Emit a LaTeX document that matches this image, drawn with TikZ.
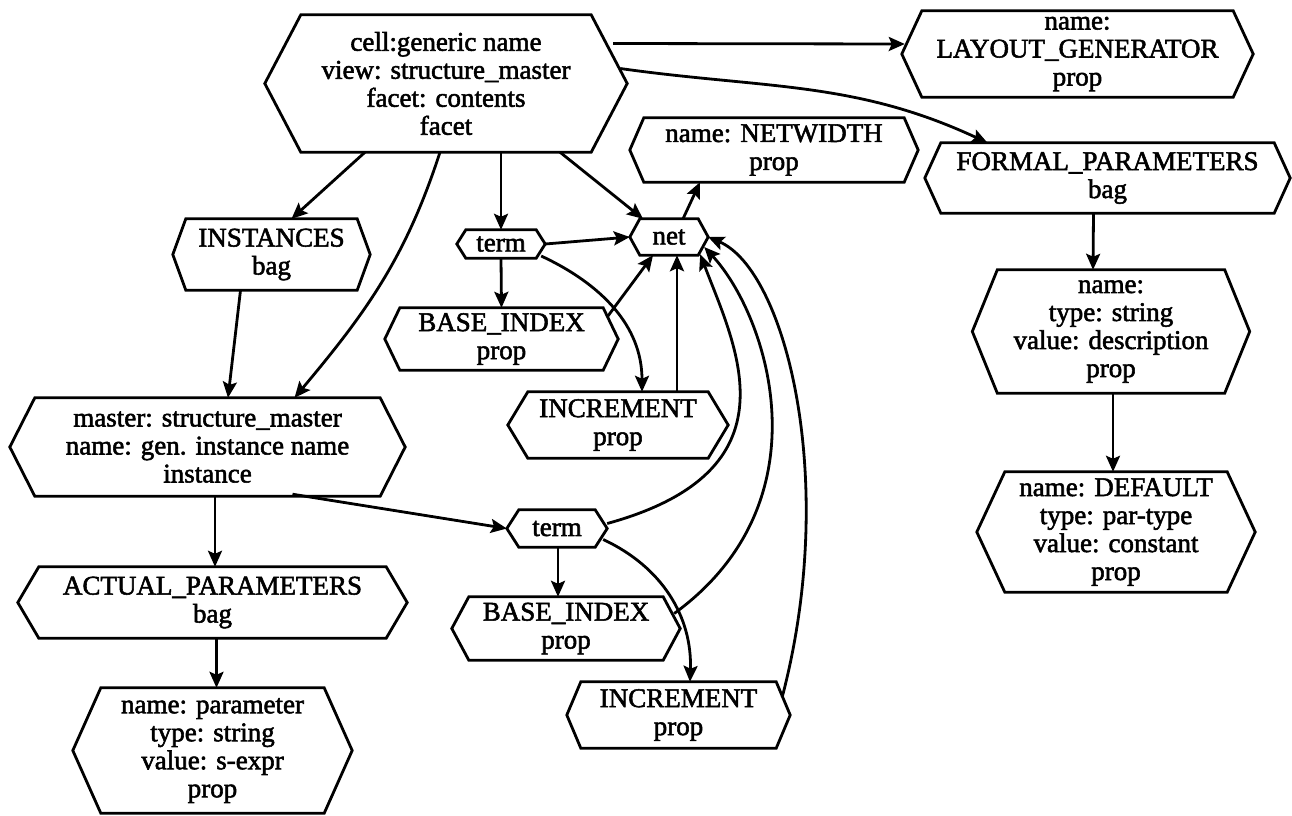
\documentclass[tikz,border=0pt]{standalone}
\usepackage{fontspec}
\setmainfont{Liberation Serif}[UprightFeatures={FakeBold=2}]
\usetikzlibrary{arrows.meta,calc}
\tikzset{
  hexbox/.style={rectangle, inner sep=0pt, align=center, font=\fontsize{27}{28}\selectfont},
  hexline/.style={line width=2.8pt, line join=miter},
  arr/.style={line width=2.8pt, -{Stealth[length=16pt,width=14pt,inset=3pt]}},
}
\newcommand{\hexnode}[6]{%
  \node[hexbox, minimum width=#3pt, minimum height=#4pt] (#1) at (#2) {#6};
  \draw[hexline] (#1.west) -- ([xshift=#5pt]#1.north west) -- ([xshift=-#5pt]#1.north east) -- (#1.east) -- ([xshift=-#5pt]#1.south east) -- ([xshift=#5pt]#1.south west) -- cycle;}
\begin{document}
\begin{tikzpicture}[x=1pt,y=-1pt]
\useasboundingbox (0,0) rectangle (1292,815);
\hexnode{facet}{446,83.5}{362}{137}{36}{cell:generic name\\view: structure\_master\\facet: contents\\facet}
\hexnode{layout}{1077.5,54}{351}{86}{20}{name:\\LAYOUT\_GENERATOR\\prop}
\hexnode{formal}{1107.5,178}{365}{70}{16}{FORMAL\_PARAMETERS\\bag}
\hexnode{netwidth}{774,150}{288}{64}{14}{name: NETWIDTH\\prop}
\hexnode{net}{669,237}{78}{36}{10}{net}
\hexnode{termA}{501,244}{88}{28}{9}{term}
\hexnode{baseA}{501.5,339}{233}{62}{15}{BASE\_INDEX\\prop}
\hexnode{incrA}{618,425}{220}{66}{20}{INCREMENT\\prop}
\hexnode{inst}{271.5,254.5}{197}{71}{13}{INSTANCES\\bag}
\hexnode{master}{207.5,447}{395}{98}{25}{master: structure\_master\\name: gen. instance name\\instance}
\hexnode{actual}{212.5,602.5}{389}{71}{21}{ACTUAL\_PARAMETERS\\bag}
\hexnode{param}{212.5,750.5}{279}{125}{28}{name: parameter\\type: string\\value: s-expr\\prop}
\hexnode{termB}{557,528.5}{100}{37}{12}{term}
\hexnode{baseB}{566,628.5}{228}{63}{17}{BASE\_INDEX\\prop}
\hexnode{incrB}{678.5,715}{223}{66}{14}{INCREMENT\\prop}
\hexnode{descr}{1111,331.5}{277}{123}{25}{name:\\type: string\\value: description\\prop}
\hexnode{default}{1116,532}{278}{120}{28}{name: DEFAULT\\type: par-type\\value: constant\\prop}

\draw[arr] ($(facet.east)+(-14,-40)$) -- ($(layout.west)+(3,-10)$);
\draw[arr] ($(facet.east)+(-7,-15)$) to[out=-8, in=155] ($(formal.north)+(-120,0)$);
\draw[arr] ($(facet.south)+(-81,0)$) -- ($(inst.north)+(20,0)$);
\draw[arr] ($(facet.south)+(-6,0)$) to[out=-108, in=50] ($(master.north)+(87,0)$);
\draw[arr] ($(facet.south)+(55,0)$) -- (termA.north);
\draw[arr] ($(facet.south)+(114,0)$) -- ($(net.north)+(-26,0)$);
\draw[arr] (termA.east) -- (net.west);
\draw[arr] (termA.south) -- (baseA.north);
\draw[arr] ($(termA.east)+(-4,12)$) to[out=-25, in=90] ($(incrA.north)+(24,0)$);
\draw[arr] ($(baseA.east)+(-11,-22)$) -- ($(net.south)+(-16,0)$);
\draw[arr] ($(incrA.north)+(59,0)$) -- ($(net.south)+(8,0)$);
\draw[arr] ($(net.north)+(14,0)$) -- ($(netwidth.south)+(-74,0)$);
\draw[arr] ($(inst.south)+(-31,0)$) -- ($(master.north)+(20.5,0)$);
\draw[arr] ($(master.south)+(7.5,0)$) -- ($(actual.north)+(2.5,0)$);
\draw[arr] ($(actual.south)+(4,0)$) -- ($(param.north)+(4,0)$);
\draw[arr] ($(master.south)+(85,-2)$) -- (termB.west);
\draw[arr] ($(termB.south)+(1,0)$) -- ($(baseB.north)+(-8,0)$);
\draw[arr] ($(termB.east)+(-4,11)$) to[out=-25, in=88] ($(incrB.north)+(11.5,0)$);
\draw[arr] ($(termB.east)+(0,-5)$) .. controls +(193,-53) and +(35,92) .. ($(net.south east)+(-8,-1)$);
\draw[arr] ($(baseB.east)+(-6,-15)$) .. controls +(155,-113) and +(63,68) .. ($(net.east)+(-4,10)$);
\draw[arr] ($(incrB.east)+(-8,-18)$) .. controls +(57,-217) and +(77,33) .. (net.east);
\draw[arr] ($(formal.south)+(-14,0)$) -- ($(descr.north)+(-18,0)$);
\draw[arr] ($(descr.south)+(2,0)$) -- ($(default.north)+(-3,0)$);
\end{tikzpicture}
\end{document}
